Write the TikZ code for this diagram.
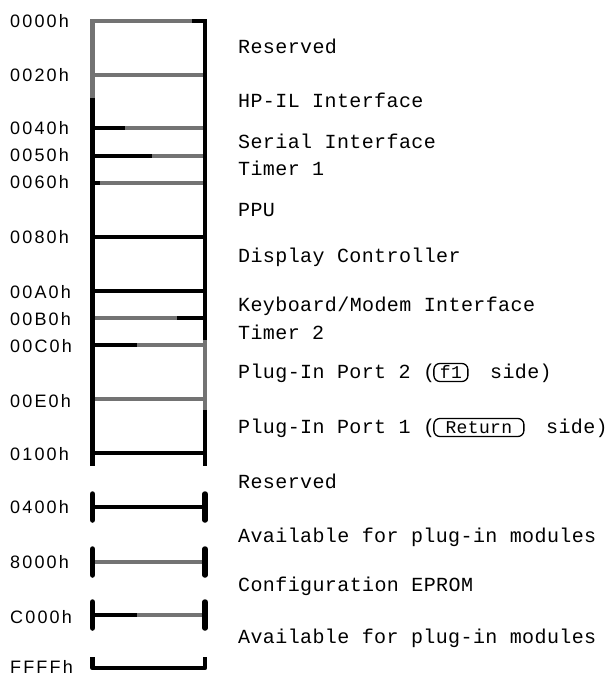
\documentclass[tikz,border=0pt]{standalone}
\usepackage{fontspec}
\newfontfamily\addrfont[LetterSpace=12]{Liberation Sans}
\newfontfamily\descfont[LetterSpace=2]{Liberation Mono}
\usetikzlibrary{positioning}

\begin{document}
\begin{tikzpicture}[x=1pt, y=-1pt,
  addr/.style={anchor=base west, inner sep=0pt, font=\addrfont\fontsize{18}{18}\selectfont},
  desc/.style={anchor=base west, inner sep=0pt, font=\descfont\fontsize{20}{20}\selectfont},
  keycap/.style={draw, rounded corners=6pt, line width=1.3pt, inner xsep=3pt, inner ysep=2.5pt,
    text height=12pt, text depth=1pt, anchor=base west, font=\descfont\fontsize{18}{18}\selectfont},
  row/.style={line width=4.8pt},
  halftone/.style={line width=4.4pt, black!55},
  endcap/.style={line width=5.5pt, line cap=round}]
  \useasboundingbox (0,0) rectangle (614,676);

  % Address column
  \foreach \name/\yb in {0000h/28, 0020h/82, 0040h/135, 0050h/162, 0060h/189, 0080h/243,
      00A0h/298, 00B0h/325, 00C0h/352, 00E0h/407, 0100h/460,
      0400h/513, 8000h/568, C000h/623, FFFFh/673}
    \node[addr] (a\name) at (10,\yb) {\name};

  % Rows of the low page (drawn first, under the frame)
  \draw[halftone] (92.5,75) -- (205,75);
  \draw[row] (92.5,128) -- (125,128);
  \draw[halftone] (125,128) -- (205,128);
  \draw[row] (92.5,156) -- (152,156);
  \draw[halftone] (152,156) -- (205,156);
  \draw[row] (92.5,183) -- (100,183);
  \draw[halftone] (100,183) -- (205,183);
  \draw[row] (92.5,237) -- (205,237);
  \draw[row] (92.5,291) -- (205,291);
  \draw[halftone] (92.5,318) -- (177,318);
  \draw[row] (177,318) -- (205,318);
  \draw[row] (92.5,345) -- (137,345);
  \draw[halftone] (137,345) -- (205,345);
  \draw[halftone] (92.5,399) -- (205,399);
  \draw[row] (92.5,453) -- (205,453);

  % Frame
  \draw[halftone] (92.5,98) -- (92.5,21) -- (192,21);
  \draw[row] (192,21) -- (205,21) -- (205,340);
  \draw[row] (92.5,98) -- (92.5,466);
  \draw[halftone] (205,340) -- (205,410);
  \draw[row] (205,410) -- (205,466);

  % Upper pages
  \draw[row] (92.5,507) -- (205,507);
  \draw[halftone] (92.5,562) -- (205,562);
  \draw[row] (92.5,615) -- (137,615);
  \draw[halftone] (137,615) -- (205,615);
  \foreach \y in {507, 562, 615} {
    \draw[endcap] (92.5,\y-13) -- (92.5,\y+13);
    \draw[endcap] (205,\y-13) -- (205,\y+13);
  }
  \draw[row, line join=round] (92.5,657) -- (92.5,668) -- (205,668) -- (205,657);

  % Descriptions
  \node[desc] (res1) at (238,54) {Reserved};
  \node[desc] (hpil) at (238,108) {HP-IL Interface};
  \node[desc] (serial) at (238,149) {Serial Interface};
  \node[desc] (timer1) at (238,176) {Timer 1};
  \node[desc] (ppu) at (238,216) {PPU};
  \node[desc] (display) at (238,262) {Display Controller};
  \node[desc] (kbd) at (238,311) {Keyboard/Modem Interface};
  \node[desc] (timer2) at (238,339) {Timer 2};
  \node[desc] (port2) at (238,378) {Plug-In Port 2 (};
  \node[keycap, minimum width=34pt] (keyf1) at ([xshift=-2pt]port2.base east) {f1};
  \node[desc] (side2) at ([xshift=9pt]keyf1.base east) {\ side)};
  \node[desc] (port1) at (238,433) {Plug-In Port 1 (};
  \node[keycap, minimum width=90pt] (keyret) at ([xshift=-2pt]port1.base east) {Return};
  \node[desc] (side1) at ([xshift=9pt]keyret.base east) {\ side)};
  \node[desc] (res2) at (238,488) {Reserved};
  \node[desc] (avail1) at (238,542) {Available for plug-in modules};
  \node[desc] (eprom) at (238,591) {Configuration EPROM};
  \node[desc] (avail2) at (238,643) {Available for plug-in modules};
\end{tikzpicture}
\end{document}
